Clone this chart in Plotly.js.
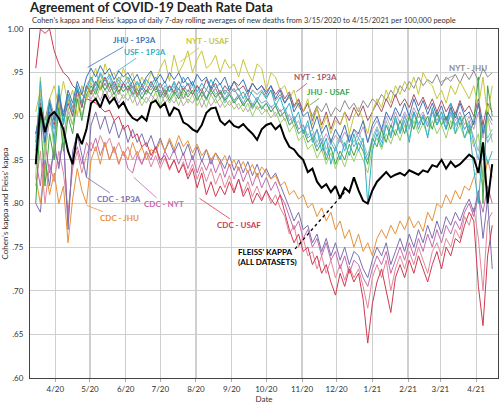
<!DOCTYPE html>
<html><head><meta charset="utf-8">
<script src="https://cdn.plot.ly/plotly-3.0.1.min.js"></script>
<style>html,body{margin:0;padding:0;background:#fff}#chart{width:500px;height:404px}</style>
</head><body><div id="chart"></div>
<script>
// sampling: every 4 days from 3/15/2020 to 4/15/2021
const START_DATE = [2020, 2, 15];
const STEP_DAYS = 4;

const fleiss = [
.845,.910,.882,.900,.905,.898,.885,.860,.845,.880,
.868,.885,.915,.920,.910,.925,.915,.921,.910,.916,
.905,.898,.895,.900,.895,.915,.918,.910,.915,.900,
.910,.907,.893,.890,.885,.882,.890,.904,.909,.910,
.895,.890,.895,.889,.887,.891,.885,.880,.873,.885,
.890,.892,.885,.890,.875,.865,.862,.855,.850,.836,
.840,.825,.818,.822,.813,.820,.806,.818,.813,.830,
.815,.803,.800,.815,.825,.830,.836,.830,.833,.835,
.832,.838,.835,.833,.838,.836,.844,.842,.850,.840,
.848,.842,.845,.850,.856,.852,.835,.870,.800,.845];

const jhu1p3a = [
.880,.905,.870,.915,.895,.925,.900,.930,.915,.940,
.925,.945,.955,.945,.958,.948,.955,.942,.952,.945,
.950,.940,.948,.935,.945,.952,.940,.948,.938,.950,
.942,.950,.938,.945,.935,.948,.940,.945,.932,.944,
.936,.945,.930,.940,.935,.942,.928,.938,.930,.935,
.925,.935,.920,.930,.915,.925,.905,.915,.900,.905,
.885,.900,.880,.890,.870,.885,.875,.890,.870,.885,
.880,.895,.870,.890,.900,.885,.905,.895,.910,.900,
.915,.900,.920,.905,.918,.902,.915,.900,.912,.895,
.910,.898,.915,.900,.905,.890,.915,.880,.905,.895];

const usf1p3a = [
.860,.940,.880,.920,.870,.935,.890,.925,.905,.935,
.915,.930,.945,.935,.950,.940,.948,.935,.945,.938,
.945,.932,.940,.930,.942,.935,.945,.932,.940,.928,
.940,.930,.945,.935,.940,.928,.938,.930,.942,.932,
.938,.925,.935,.928,.932,.920,.930,.925,.918,.928,
.920,.930,.912,.922,.905,.915,.895,.905,.880,.895,
.870,.885,.860,.875,.845,.865,.850,.870,.855,.880,
.860,.875,.800,.860,.880,.865,.890,.875,.900,.880,
.895,.870,.905,.885,.900,.875,.910,.890,.905,.885,
.915,.880,.900,.875,.890,.840,.800,.870,.845,.860];

const jhuUsaf = [
.800,.900,.820,.880,.850,.910,.860,.900,.880,.920,
.895,.925,.935,.925,.940,.930,.938,.925,.935,.928,
.935,.925,.932,.920,.930,.925,.935,.922,.930,.918,
.928,.920,.932,.922,.930,.918,.928,.920,.930,.922,
.928,.918,.925,.915,.922,.912,.920,.910,.918,.908,
.915,.905,.912,.900,.905,.890,.895,.880,.885,.870,
.875,.860,.870,.850,.865,.845,.860,.850,.868,.855,
.870,.860,.845,.875,.865,.885,.870,.890,.878,.895,
.880,.900,.885,.905,.890,.900,.885,.905,.890,.900,
.885,.905,.890,.900,.880,.895,.945,.800,.935,.900];

const nytUsaf = [
.905,.930,.885,.920,.935,.910,.940,.915,.930,.900,
.935,.920,.940,.955,.930,.960,.945,.950,.935,.955,
.940,.950,.930,.945,.935,.950,.940,.955,.965,.940,
.970,.950,.960,.975,.950,.965,.975,.955,.960,.970,
.950,.965,.955,.960,.945,.965,.950,.940,.960,.955,
.930,.950,.945,.930,.935,.920,.930,.910,.905,.920,
.890,.910,.885,.900,.880,.895,.890,.905,.880,.900,
.910,.895,.880,.905,.920,.910,.930,.915,.935,.925,
.940,.930,.945,.925,.950,.940,.935,.920,.930,.915,
.935,.925,.940,.930,.920,.935,.910,.945,.900,.935];

const nyt1p3a = [
.870,.915,.880,.905,.890,.920,.895,.915,.900,.930,
.910,.935,.925,.940,.930,.945,.932,.940,.928,.938,
.930,.940,.925,.935,.928,.940,.930,.938,.925,.935,
.928,.940,.930,.938,.925,.935,.928,.942,.930,.938,
.925,.935,.928,.940,.930,.935,.925,.938,.930,.935,
.928,.935,.925,.932,.920,.928,.912,.920,.905,.915,
.895,.910,.890,.905,.885,.900,.890,.905,.895,.910,
.900,.912,.895,.905,.915,.905,.920,.910,.925,.912,
.920,.910,.925,.912,.922,.908,.920,.905,.918,.905,
.915,.902,.918,.905,.912,.900,.920,.890,.915,.905];

const nytJhu = [
.880,.910,.895,.920,.900,.915,.905,.925,.910,.930,
.915,.935,.928,.940,.930,.938,.928,.935,.925,.938,
.928,.935,.922,.932,.925,.935,.928,.930,.922,.935,
.925,.932,.920,.930,.925,.935,.922,.930,.925,.932,
.920,.930,.925,.932,.922,.928,.918,.930,.925,.930,
.922,.930,.918,.925,.915,.922,.910,.918,.905,.915,
.900,.912,.905,.915,.900,.910,.905,.918,.908,.915,
.905,.918,.910,.920,.915,.925,.918,.930,.922,.935,
.928,.940,.932,.945,.935,.942,.938,.948,.935,.945,
.940,.948,.938,.950,.942,.952,.940,.955,.945,.950];

const jhuUsf = [
.850,.920,.870,.905,.885,.925,.890,.920,.900,.935,
.910,.935,.945,.930,.948,.935,.945,.930,.942,.932,
.940,.928,.938,.925,.935,.930,.940,.925,.935,.928,
.938,.925,.935,.928,.940,.925,.932,.920,.935,.925,
.930,.920,.928,.918,.925,.915,.925,.912,.922,.915,
.918,.910,.915,.905,.910,.895,.900,.885,.890,.875,
.880,.865,.875,.855,.870,.860,.875,.860,.878,.865,
.875,.865,.850,.870,.885,.870,.890,.878,.895,.882,
.900,.885,.905,.890,.902,.888,.905,.890,.900,.885,
.905,.890,.900,.885,.895,.870,.850,.890,.870,.880];

const nytUsf = [
.875,.925,.885,.915,.895,.930,.900,.925,.905,.932,
.915,.930,.938,.928,.942,.930,.940,.925,.938,.928,
.935,.922,.932,.920,.930,.925,.935,.920,.932,.922,
.935,.920,.930,.925,.935,.920,.928,.918,.930,.920,
.928,.915,.925,.918,.922,.912,.920,.908,.918,.910,
.915,.905,.912,.900,.905,.890,.898,.885,.890,.878,
.885,.870,.880,.862,.875,.865,.878,.865,.880,.870,
.882,.870,.855,.875,.888,.875,.895,.880,.898,.885,
.902,.888,.905,.892,.900,.888,.905,.890,.898,.885,
.902,.888,.898,.885,.892,.875,.860,.895,.875,.885];

const usfUsaf = [
.830,.945,.850,.910,.860,.920,.870,.910,.890,.925,
.900,.920,.930,.918,.935,.922,.932,.918,.930,.920,
.928,.915,.925,.912,.922,.915,.928,.912,.925,.915,
.925,.912,.928,.915,.925,.912,.922,.910,.925,.915,
.920,.910,.918,.908,.915,.905,.915,.900,.912,.902,
.908,.898,.905,.892,.898,.882,.890,.872,.878,.862,
.868,.852,.862,.845,.858,.840,.855,.842,.860,.848,
.862,.850,.835,.865,.875,.862,.880,.868,.885,.872,
.890,.875,.895,.880,.892,.878,.895,.880,.890,.875,
.895,.880,.890,.875,.885,.865,.880,.830,.900,.870];

const usaf1p3a = [
.850,.905,.860,.895,.875,.910,.880,.905,.890,.920,
.900,.925,.920,.930,.918,.932,.920,.928,.915,.925,
.918,.928,.912,.922,.915,.925,.918,.928,.915,.922,
.915,.925,.912,.920,.915,.925,.910,.922,.912,.920,
.910,.920,.912,.918,.908,.915,.905,.915,.908,.912,
.905,.912,.900,.908,.895,.902,.888,.895,.880,.890,
.875,.885,.870,.880,.868,.878,.870,.882,.872,.885,
.875,.888,.870,.885,.895,.882,.900,.888,.905,.892,
.905,.895,.910,.898,.905,.892,.908,.895,.905,.892,
.908,.895,.905,.890,.900,.885,.905,.875,.900,.890];

const cdcUsaf = [
.955,1.00,.995,1.00,.975,.960,.950,.945,.935,.930,
.925,.920,.918,.915,.910,.905,.907,.895,.900,.885,
.890,.875,.880,.865,.870,.855,.865,.850,.855,.840,
.850,.835,.845,.828,.840,.818,.835,.810,.825,.808,
.820,.810,.825,.812,.828,.808,.818,.800,.812,.803,
.815,.805,.798,.810,.790,.770,.755,.765,.745,.750,
.730,.740,.720,.730,.710,.695,.720,.705,.725,.710,
.720,.690,.640,.685,.710,.725,.700,.675,.715,.730,
.715,.735,.720,.740,.725,.710,.730,.745,.725,.750,
.740,.760,.755,.775,.790,.780,.705,.660,.740,.775];

const cdcNyt = [
.850,.820,.870,.835,.860,.845,.875,.780,.850,.865,
.845,.870,.860,.875,.855,.870,.850,.865,.845,.860,
.840,.835,.855,.845,.860,.850,.865,.845,.860,.850,
.862,.845,.858,.840,.855,.835,.850,.838,.852,.835,
.848,.830,.845,.828,.842,.825,.838,.820,.835,.818,
.830,.815,.825,.810,.800,.785,.770,.780,.760,.770,
.750,.760,.740,.755,.735,.745,.725,.740,.720,.735,
.730,.715,.705,.725,.740,.730,.745,.720,.735,.750,
.735,.755,.740,.760,.745,.765,.750,.770,.755,.775,
.765,.780,.770,.790,.800,.785,.810,.790,.820,.800];

const cdc1p3a = [
.800,.790,.850,.820,.870,.840,.880,.770,.860,.880,
.855,.830,.890,.905,.885,.900,.880,.895,.875,.890,
.870,.885,.870,.880,.865,.878,.862,.875,.860,.872,
.858,.870,.855,.868,.850,.865,.848,.862,.845,.858,
.850,.840,.855,.838,.850,.835,.848,.832,.845,.830,
.840,.828,.835,.822,.810,.795,.780,.790,.770,.775,
.755,.765,.745,.760,.740,.755,.735,.750,.730,.745,
.740,.725,.715,.735,.750,.740,.755,.730,.745,.760,
.745,.765,.750,.770,.755,.775,.760,.780,.765,.785,
.775,.790,.780,.795,.805,.790,.815,.760,.805,.725];

const cdcJhu = [
.830,.800,.845,.810,.835,.800,.820,.755,.805,.840,
.815,.800,.850,.865,.845,.870,.850,.865,.845,.860,
.850,.870,.855,.865,.850,.862,.858,.872,.860,.875,
.862,.878,.865,.872,.858,.868,.855,.862,.850,.858,
.845,.855,.842,.850,.838,.848,.835,.845,.830,.842,
.835,.828,.832,.820,.825,.810,.815,.805,.810,.795,
.800,.785,.795,.780,.790,.770,.780,.760,.770,.750,
.765,.745,.755,.740,.760,.770,.760,.775,.765,.780,
.770,.785,.772,.780,.768,.790,.780,.800,.795,.810,
.800,.815,.805,.820,.815,.830,.840,.820,.850,.830];

const cdcUsf = [
.820,.860,.800,.845,.825,.860,.835,.790,.840,.860,
.835,.855,.870,.860,.878,.865,.875,.858,.870,.855,
.865,.850,.860,.845,.858,.842,.855,.840,.852,.838,
.850,.835,.848,.832,.845,.828,.842,.825,.840,.822,
.835,.818,.832,.815,.828,.812,.825,.808,.820,.805,
.815,.800,.810,.795,.785,.765,.775,.750,.760,.740,
.745,.725,.740,.720,.735,.715,.730,.712,.728,.715,
.725,.705,.680,.715,.730,.715,.735,.700,.725,.740,
.725,.745,.730,.750,.735,.720,.745,.755,.740,.760,
.750,.770,.760,.785,.775,.795,.760,.700,.780,.790];

const xTickVals = ['2020-04-01','2020-05-01','2020-06-01','2020-07-01','2020-08-01','2020-09-01','2020-10-01','2020-11-01','2020-12-01','2021-01-01','2021-02-01','2021-03-01','2021-04-01'];
const xTickText = ['4/20','5/20','6/20','7/20','8/20','9/20','10/20','11/20','12/20','1/21','2/21','3/21','4/21'];
const yTickVals = [0.60,0.65,0.70,0.75,0.80,0.85,0.90,0.95,1.00];
const yTickText = ['.60','.65','.70','.75','.80','.85','.90','.95','1.00'];

function sampleDates(n){
  const out = [];
  const t0 = Date.UTC(START_DATE[0], START_DATE[1], START_DATE[2]);
  for (let i = 0; i < n; i++) {
    out.push(new Date(t0 + i*STEP_DAYS*86400000).toISOString().slice(0,10));
  }
  return out;
}
const dates = sampleDates(fleiss.length);

const series = [
  {name:'CDC - USF',  y:cdcUsf,  color:'#e3879b'},
  {name:'CDC - NYT',  y:cdcNyt,  color:'#c46aae'},
  {name:'CDC - 1P3A', y:cdc1p3a, color:'#7c6fae'},
  {name:'CDC - JHU',  y:cdcJhu,  color:'#e8913a'},
  {name:'CDC - USAF', y:cdcUsaf, color:'#d03a50'},
  {name:'USAF - 1P3A',y:usaf1p3a,color:'#c49ac4'},
  {name:'USF - USAF', y:usfUsaf, color:'#9ccf6a'},
  {name:'NYT - USF',  y:nytUsf,  color:'#86c5b7'},
  {name:'JHU - USF',  y:jhuUsf,  color:'#6fa7db'},
  {name:'NYT - JHU',  y:nytJhu,  color:'#8c8c8c'},
  {name:'NYT - 1P3A', y:nyt1p3a, color:'#a85468'},
  {name:'JHU - USAF', y:jhuUsaf, color:'#3fa548'},
  {name:'NYT - USAF', y:nytUsaf, color:'#c6c63c'},
  {name:'USF - 1P3A', y:usf1p3a, color:'#2fb2c2'},
  {name:'JHU - 1P3A', y:jhu1p3a, color:'#3c72b8'}
];

const traces = series.map(s => ({
  type:'scatter', mode:'lines', name:s.name, x:dates, y:s.y,
  line:{color:s.color, width:1}, hoverinfo:'skip'
}));
traces.push({type:'scatter', mode:'lines', name:"Fleiss' kappa", x:dates, y:fleiss,
  line:{color:'#000', width:2}, hoverinfo:'skip'});

const labels = [
  {text:'JHU - 1P3A', color:'#3c72b8', x:'2020-04-29', y:0.956, ax:47, ay:-27},
  {text:'USF - 1P3A', color:'#2fb2c2', x:'2020-05-24', y:0.951, ax:29, ay:-20},
  {text:'NYT - USAF', color:'#c6c63c', x:'2020-07-18', y:0.962, ax:28, ay:-21},
  {text:'NYT - 1P3A', color:'#a85468', x:'2020-10-27', y:0.928, ax:19, ay:-15},
  {text:'JHU - USAF', color:'#3fa548', x:'2020-11-08', y:0.913, ax:18, ay:-13},
  {text:'NYT - JHU',  color:'#8c8c8c', x:'2021-03-01', y:0.939, ax:28, ay:-14},
  {text:'CDC - 1P3A', color:'#7c6fae', x:'2020-04-28', y:0.830, ax:33, ay:22},
  {text:'CDC - NYT',  color:'#c46aae', x:'2020-06-08', y:0.830, ax:30, ay:27},
  {text:'CDC - JHU',  color:'#e8913a', x:'2020-04-28', y:0.798, ax:33, ay:13},
  {text:'CDC - USAF', color:'#d03a50', x:'2020-08-04', y:0.806, ax:40, ay:27}
];

const annotations = labels.map(l => ({
  x:l.x, y:l.y, xref:'x', yref:'y', text:l.text, showarrow:true,
  ax:l.ax, ay:l.ay, arrowhead:0, arrowwidth:0.8, arrowcolor:l.color, standoff:0,
  font:{family:'Lato, sans-serif', size:8, color:l.color, weight:'bold'}
}));
annotations.push({
  x:'2020-09-05', y:0.739, xref:'x', yref:'y', xanchor:'left', yanchor:'middle', align:'left',
  text:"FLEISS' KAPPA<br>(ALL DATASETS)", showarrow:false,
  font:{family:'Lato, sans-serif', size:8, color:'#000', weight:'bold'}
});
annotations.push({
  xref:'paper', yref:'paper', x:0, y:1.025, xanchor:'left', yanchor:'middle', showarrow:false,
  text:"Cohen's kappa and Fleiss' kappa of daily 7-day rolling averages of new deaths from 3/15/2020 to 4/15/2021 per 100,000 people",
  font:{family:'Lato, sans-serif', size:7.5, color:'#333'}
});

const layout = {
  width:500, height:404,
  margin:{l:30, r:2, t:29, b:26},
  paper_bgcolor:'#fff', plot_bgcolor:'#fff',
  showlegend:false,
  title:{text:'Agreement of COVID-19 Death Rate Data', x:0.06, xanchor:'left',
    xref:'container', yref:'container', y:0.994, yanchor:'top', pad:{t:0, b:0, l:0, r:0},
    font:{family:'Lato, sans-serif', size:13, color:'#222', weight:'bold'}},
  xaxis:{type:'date', range:['2020-03-10','2021-04-20'], tickvals:xTickVals, ticktext:xTickText,
    showgrid:true, gridcolor:'#cfcfcf', gridwidth:1.2, showline:true, linecolor:'#444', linewidth:1, mirror:true,
    ticks:'outside', ticklen:3, tickcolor:'#aaa', zeroline:false,
    tickfont:{family:'Lato, sans-serif', size:8, color:'#333'},
    title:{text:'Date', standoff:4, font:{family:'Lato, sans-serif', size:8, color:'#333'}}, automargin:false},
  yaxis:{range:[0.60,1.00], tickvals:yTickVals, ticktext:yTickText,
    showgrid:true, gridcolor:'#cfcfcf', gridwidth:1.2, showline:true, linecolor:'#444', linewidth:1, mirror:true,
    ticks:'', zeroline:false, ticklabelstandoff:4,
    tickfont:{family:'Lato, sans-serif', size:8, color:'#333'},
    title:{text:"Cohen's kappa and Fleiss' kappa", standoff:3, font:{family:'Lato, sans-serif', size:8, color:'#333'}}, automargin:false},
  shapes:[{type:'line', xref:'x', yref:'y', x0:'2020-10-26', y0:0.748, x1:'2020-12-08', y1:0.813,
    line:{color:'#000', width:1.3, dash:'dot'}}],
  annotations:annotations
};

Plotly.newPlot('chart', traces, layout, {displayModeBar:false, staticPlot:true});
</script></body></html>
